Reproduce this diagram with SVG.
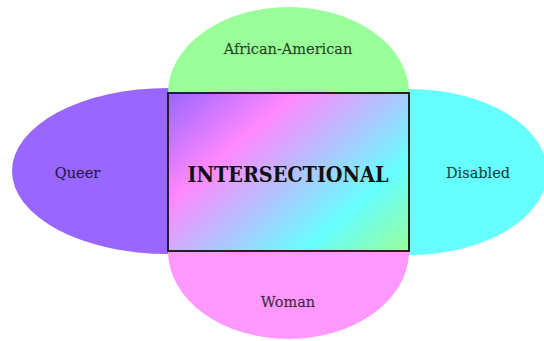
<svg xmlns="http://www.w3.org/2000/svg" width="544" height="341" viewBox="0 0 544 341">
<style>
.lbl{font-family:"DejaVu Serif","Liberation Serif",serif;font-size:14.5px;fill:#000;fill-opacity:0.72;stroke:#000;stroke-opacity:0.35;stroke-width:0.45;text-anchor:middle}
.main{font-family:"DejaVu Serif Condensed","DejaVu Serif","Liberation Serif",serif;font-stretch:condensed;font-weight:bold;font-size:22px;fill:#111;text-anchor:middle}
</style>
<defs>
<linearGradient id="grad" gradientUnits="userSpaceOnUse" x1="168" y1="93" x2="347.2" y2="303.8">
<stop offset="0" stop-color="#9966ff"/>
<stop offset="0.3" stop-color="#ff88ff"/>
<stop offset="0.5" stop-color="#bbbbff"/>
<stop offset="0.75" stop-color="#66ffff"/>
<stop offset="1" stop-color="#99ff99"/>
</linearGradient>
</defs>
<rect width="544" height="341" fill="#ffffff"/>
<g id="connectors"/>
<g id="queer">
<ellipse cx="168" cy="171" rx="156" ry="83" fill="#9966ff"/>
<text class="lbl" x="77.5" y="178">Queer</text>
</g>
<g id="disabled">
<ellipse cx="409" cy="172" rx="138" ry="83" fill="#66ffff"/>
<text class="lbl" x="478" y="177.5">Disabled</text>
</g>
<g id="african-american">
<ellipse cx="288.5" cy="93" rx="120.5" ry="86" fill="#99ff99"/>
<text class="lbl" x="288" y="54">African-American</text>
</g>
<g id="woman">
<ellipse cx="288.5" cy="251" rx="120.5" ry="88" fill="#ff99ff"/>
<text class="lbl" x="288" y="307">Woman</text>
</g>
<g id="intersectional">
<rect x="168" y="93" width="241" height="158" fill="url(#grad)" stroke="#222" stroke-width="2"/>
<text class="main" x="288" y="181.5" textLength="201" lengthAdjust="spacingAndGlyphs">INTERSECTIONAL</text>
</g>
</svg>
